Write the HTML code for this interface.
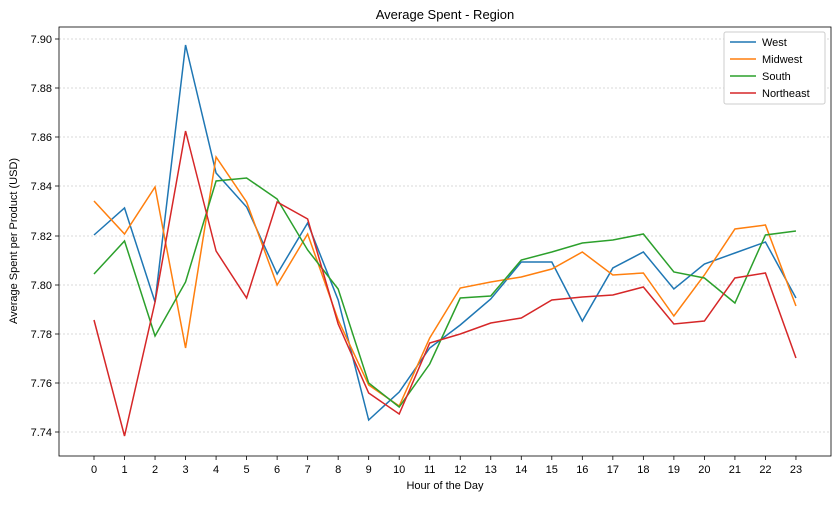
<!DOCTYPE html>
<html><head><meta charset="utf-8"><style>
body{margin:0;background:#fff;}
text{font-family:"Liberation Sans","DejaVu Sans",sans-serif;fill:#000;}
</style></head><body>
<svg width="839" height="500" xmlns="http://www.w3.org/2000/svg">
<rect width="839" height="500" fill="#fff"/>
<g stroke="#ccc" stroke-width="0.8" stroke-dasharray="2,2">
<line x1="59" x2="831" y1="39" y2="39"/><line x1="59" x2="831" y1="88" y2="88"/>
<line x1="59" x2="831" y1="137" y2="137"/><line x1="59" x2="831" y1="186" y2="186"/>
<line x1="59" x2="831" y1="236" y2="236"/><line x1="59" x2="831" y1="285" y2="285"/>
<line x1="59" x2="831" y1="334" y2="334"/><line x1="59" x2="831" y1="383" y2="383"/>
<line x1="59" x2="831" y1="432" y2="432"/>
</g>
<rect x="59" y="27" width="772" height="429" fill="none" stroke="#000" stroke-width="0.8"/>
<g font-size="11" text-anchor="end">
<text x="52" y="43">7.90</text><text x="52" y="92">7.88</text><text x="52" y="141">7.86</text>
<text x="52" y="190">7.84</text><text x="52" y="240">7.82</text><text x="52" y="289">7.80</text>
<text x="52" y="338">7.78</text><text x="52" y="387">7.76</text><text x="52" y="436">7.74</text>
</g>
<g stroke="#000" stroke-width="0.8">
<line x1="55" x2="59" y1="39" y2="39"/><line x1="55" x2="59" y1="88" y2="88"/><line x1="55" x2="59" y1="137" y2="137"/>
<line x1="55" x2="59" y1="186" y2="186"/><line x1="55" x2="59" y1="236" y2="236"/><line x1="55" x2="59" y1="285" y2="285"/>
<line x1="55" x2="59" y1="334" y2="334"/><line x1="55" x2="59" y1="383" y2="383"/><line x1="55" x2="59" y1="432" y2="432"/>
</g>
<g id="xt" font-size="11" text-anchor="middle"></g>
<text x="445" y="19" font-size="13" text-anchor="middle">Average Spent - Region</text>
<text x="445" y="489" font-size="11" text-anchor="middle">Hour of the Day</text>
<text transform="translate(17,241) rotate(-90)" font-size="11" text-anchor="middle">Average Spent per Product (USD)</text>
<g fill="none" stroke-width="1.5">
<polyline id="w" stroke="#1f77b4"/><polyline id="m" stroke="#ff7f0e"/>
<polyline id="s" stroke="#2ca02c"/><polyline id="n" stroke="#d62728"/>
</g>
<rect x="724" y="32" width="101" height="72" fill="#fff" stroke="#ccc" rx="2"/>
<g stroke-width="1.5">
<line x1="730" x2="756" y1="42" y2="42" stroke="#1f77b4"/>
<line x1="730" x2="756" y1="59" y2="59" stroke="#ff7f0e"/>
<line x1="730" x2="756" y1="76" y2="76" stroke="#2ca02c"/>
<line x1="730" x2="756" y1="93" y2="93" stroke="#d62728"/>
</g>
<g font-size="11"><text x="762" y="46">West</text><text x="762" y="63">Midwest</text><text x="762" y="80">South</text><text x="762" y="97">Northeast</text></g>
</svg>
<script>
const X=h=>94+h*30.52;
const d={w:[235,208,302,45,173,207,274,223,300,420,392,348,325,299,262,262,321,268,252,289,264,253,242,298],
m:[201,234,187,348,157,202,285,234,320,385,406,338,288,282,277,269,252,275,273,316,275,229,225,306],
s:[274,241,336,282,181,178,199,250,289,383,407,364,298,296,260,252,243,240,234,272,278,303,235,231],
n:[320,436,302,131,251,298,202,219,324,393,414,343,334,323,318,300,297,295,287,324,321,278,273,358]};
for(const k in d)document.getElementById(k).setAttribute('points',d[k].map((y,i)=>X(i)+','+y).join(' '));
const g=document.getElementById('xt');let s='';
for(let i=0;i<24;i++){s+=`<line x1="${X(i)}" x2="${X(i)}" y1="456" y2="460" stroke="#000" stroke-width="0.8"/><text x="${X(i)}" y="473">${i}</text>`;}
g.innerHTML=s;
</script>
</body></html>
